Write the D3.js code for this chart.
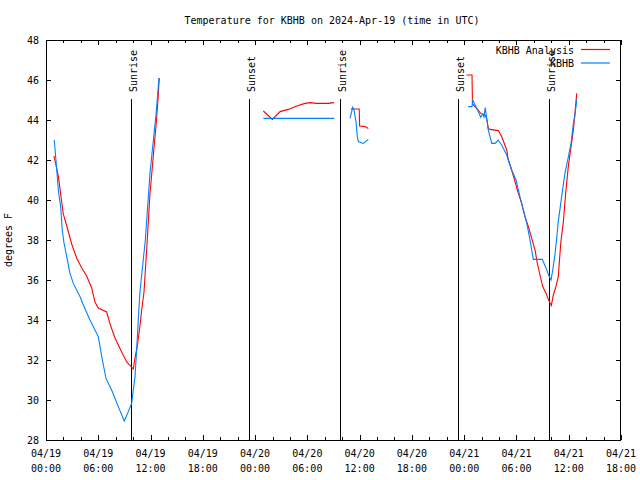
<!DOCTYPE html>
<html>
<head>
<meta charset="utf-8">
<script src="https://cdn.jsdelivr.net/npm/d3@7"></script>
<style>
  html, body { margin: 0; padding: 0; background: #fff; }
  text { font-family: "DejaVu Sans Mono", "Liberation Mono", monospace; font-size: 10px; fill: #000; }
</style>
</head>
<body>
<svg id="chart" width="640" height="480"></svg>
<script>
// ---- Data ----
const titleText = "Temperature for KBHB on 2024-Apr-19 (time in UTC)";
const yLabelText = "degrees F";
const seriesNames = ["KBHB Analysis", "KBHB"];
const seriesColors = ["#ff0000", "#0080ff"];

// KBHB Analysis (null marks a gap in the data)
const analysisTimes = [
  "2024-04-19 00:55","2024-04-19 01:25","2024-04-19 01:41","2024-04-19 01:59","2024-04-19 02:23",
  "2024-04-19 02:57","2024-04-19 03:31","2024-04-19 04:06","2024-04-19 04:40","2024-04-19 05:15",
  "2024-04-19 05:37","2024-04-19 06:00","2024-04-19 06:58","2024-04-19 07:21","2024-04-19 07:55",
  "2024-04-19 08:41","2024-04-19 09:16","2024-04-19 09:43","2024-04-19 10:01","2024-04-19 10:15",
  "2024-04-19 10:29","2024-04-19 10:47","2024-04-19 10:59","2024-04-19 11:15","2024-04-19 11:34",
  "2024-04-19 11:56","2024-04-19 12:19","2024-04-19 12:41","2024-04-19 12:51","2024-04-19 13:00",
  null,
  "2024-04-20 00:57","2024-04-20 01:59","2024-04-20 02:52","2024-04-20 03:49","2024-04-20 04:47",
  "2024-04-20 05:44","2024-04-20 06:18","2024-04-20 07:04","2024-04-20 08:24","2024-04-20 09:04",
  null,
  "2024-04-20 10:58","2024-04-20 11:57","2024-04-20 12:00","2024-04-20 12:37","2024-04-20 13:00",
  null,
  "2024-04-21 00:16","2024-04-21 00:54","2024-04-21 00:57","2024-04-21 01:26","2024-04-21 01:54",
  "2024-04-21 02:23","2024-04-21 02:35","2024-04-21 02:46","2024-04-21 02:58","2024-04-21 03:55",
  "2024-04-21 04:18","2024-04-21 04:53","2024-04-21 05:04","2024-04-21 05:27","2024-04-21 05:50",
  "2024-04-21 06:13","2024-04-21 06:36","2024-04-21 06:59","2024-04-21 07:22","2024-04-21 07:45",
  "2024-04-21 08:08","2024-04-21 08:24","2024-04-21 08:42","2024-04-21 09:01","2024-04-21 09:24",
  "2024-04-21 09:46","2024-04-21 10:00","2024-04-21 10:14","2024-04-21 10:32","2024-04-21 10:48",
  "2024-04-21 11:05","2024-04-21 11:23","2024-04-21 11:39","2024-04-21 11:57","2024-04-21 12:16",
  "2024-04-21 12:32","2024-04-21 12:43","2024-04-21 12:55"
];
const analysisTemps = [
  42.2, 41.2, 40.3, 39.3, 38.7,
  37.8, 37.1, 36.6, 36.2, 35.6,
  34.9, 34.6, 34.4, 33.8, 33.1,
  32.4, 31.9, 31.7, 31.55, 32.2,
  32.7, 33.7, 34.5, 35.4, 37.6,
  40.3, 42.2, 44.0, 45.0, 46.1,
  null,
  44.45, 44.03, 44.42, 44.53, 44.7,
  44.83, 44.87, 44.83, 44.83, 44.87,
  null,
  44.55, 44.55, 43.7, 43.67, 43.58,
  null,
  46.25, 46.25, 44.8, 44.58, 44.33,
  44.25, 44.08, 43.58, 43.53, 43.47,
  43.17, 42.5, 42.0, 41.5, 40.92,
  40.33, 39.83, 39.17, 38.67, 38.08,
  37.5, 36.83, 36.25, 35.67, 35.33,
  34.92, 34.72, 35.25, 35.67, 36.17,
  37.83, 38.92, 40.33, 41.67, 42.67,
  43.5, 44.33, 45.33
];

// KBHB observations
const obsTimes = [
  "2024-04-19 00:57","2024-04-19 01:14","2024-04-19 01:25","2024-04-19 01:41","2024-04-19 01:52",
  "2024-04-19 02:04","2024-04-19 02:23","2024-04-19 02:45","2024-04-19 03:08","2024-04-19 03:54",
  "2024-04-19 04:17","2024-04-19 05:03","2024-04-19 06:00","2024-04-19 06:24","2024-04-19 06:53",
  "2024-04-19 07:32","2024-04-19 08:18","2024-04-19 08:59","2024-04-19 09:27","2024-04-19 09:50",
  "2024-04-19 10:01","2024-04-19 10:13","2024-04-19 10:25","2024-04-19 10:36","2024-04-19 10:47",
  "2024-04-19 11:24","2024-04-19 11:56","2024-04-19 12:38","2024-04-19 12:58",
  null,
  "2024-04-20 00:57","2024-04-20 03:00","2024-04-20 06:00","2024-04-20 09:04",
  null,
  "2024-04-20 10:54","2024-04-20 11:12","2024-04-20 11:21","2024-04-20 11:35","2024-04-20 11:44",
  "2024-04-20 11:51","2024-04-20 12:25","2024-04-20 13:00",
  null,
  "2024-04-21 00:27","2024-04-21 00:54","2024-04-21 00:59","2024-04-21 01:15","2024-04-21 01:37",
  "2024-04-21 01:54","2024-04-21 02:08","2024-04-21 02:16","2024-04-21 02:25","2024-04-21 02:35",
  "2024-04-21 02:46","2024-04-21 03:10","2024-04-21 03:32","2024-04-21 03:55","2024-04-21 04:18",
  "2024-04-21 04:53","2024-04-21 05:27","2024-04-21 05:57","2024-04-21 06:24","2024-04-21 06:47",
  "2024-04-21 07:11","2024-04-21 07:29","2024-04-21 07:45","2024-04-21 07:56","2024-04-21 08:58",
  "2024-04-21 09:24","2024-04-21 09:46","2024-04-21 09:58","2024-04-21 10:10","2024-04-21 10:26",
  "2024-04-21 10:37","2024-04-21 10:48","2024-04-21 11:05","2024-04-21 11:19","2024-04-21 11:34",
  "2024-04-21 11:53","2024-04-21 12:16","2024-04-21 12:32","2024-04-21 12:43","2024-04-21 12:55"
];
const obsTemps = [
  43.0, 41.5, 40.5, 39.67, 38.5,
  37.85, 37.17, 36.33, 35.83, 35.17,
  34.75, 34.0, 33.17, 32.17, 31.08,
  30.5, 29.67, 28.95, 29.42, 29.83,
  30.5, 31.17, 32.58, 34.08, 35.4,
  38.0, 41.33, 44.3, 46.1,
  null,
  44.08, 44.08, 44.08, 44.08,
  null,
  44.08, 44.63, 44.5, 43.92, 43.17,
  42.92, 42.83, 43.03,
  null,
  44.67, 44.67, 45.0, 44.75, 44.42,
  44.13, 44.3, 44.15, 44.62, 44.08,
  43.5, 42.83, 42.83, 43.0, 42.75,
  42.25, 41.5, 41.0, 40.17, 39.5,
  38.83, 38.17, 37.5, 37.03, 37.03,
  36.58, 36.17, 36.0, 36.5, 37.33,
  38.08, 38.92, 39.83, 40.58, 41.33,
  42.0, 42.83, 43.83, 44.25, 45.0
];

// Sunrise / sunset markers
const eventLabels = ["Sunrise", "Sunset", "Sunrise", "Sunset", "Sunrise"];
const eventTimes = ["2024-04-19 09:47", "2024-04-19 23:20", "2024-04-20 09:47", "2024-04-20 23:20", "2024-04-21 09:46"];

// Axes
const xDomain = ["2024-04-19 00:00", "2024-04-21 18:00"];
const yDomain = [28, 48];
const yTickValues = [28, 30, 32, 34, 36, 38, 40, 42, 44, 46, 48];

// ---- Drawing ----
const parse = d3.utcParse("%Y-%m-%d %H:%M");
const svg = d3.select("#chart");
const m = { left: 46, right: 621, top: 40, bottom: 440 };

const x = d3.scaleUtc().domain(xDomain.map(parse)).range([m.left, m.right]);
const y = d3.scaleLinear().domain(yDomain).range([m.bottom, m.top]);

// Title
svg.append("text").attr("x", 332).attr("y", 24).attr("text-anchor", "middle").text(titleText);

// Y label
svg.append("text")
  .attr("transform", "translate(12,240) rotate(-90)")
  .attr("text-anchor", "middle").text(yLabelText);

const axisG = svg.append("g").attr("shape-rendering", "crispEdges");

// x ticks
const majorX = d3.utcHour.every(6).range(x.domain()[0], new Date(+x.domain()[1] + 1));
const minorX = d3.utcHour.every(2).range(x.domain()[0], new Date(+x.domain()[1] + 1));
const xb = d3.axisBottom(x).tickValues(majorX).tickSize(-5).tickFormat("");
const xbMinor = d3.axisBottom(x).tickValues(minorX).tickSize(-3).tickFormat("");
const xt = d3.axisTop(x).tickValues(majorX).tickSize(-5).tickFormat("");
const xtMinor = d3.axisTop(x).tickValues(minorX).tickSize(-3).tickFormat("");
[[xb, m.bottom], [xbMinor, m.bottom], [xt, m.top], [xtMinor, m.top]].forEach(([ax, ty]) => {
  const g = axisG.append("g").attr("transform", `translate(0,${ty})`).call(ax);
  g.select(".domain").remove();
  g.selectAll("line").attr("stroke", "#000");
});

// x tick labels (two lines)
const fmtDate = d3.utcFormat("%m/%d"), fmtTime = d3.utcFormat("%H:%M");
const xl = svg.append("g");
majorX.forEach(t => {
  const tx = xl.append("text").attr("x", x(t)).attr("text-anchor", "middle");
  tx.append("tspan").attr("x", x(t)).attr("y", 457).text(fmtDate(t));
  tx.append("tspan").attr("x", x(t)).attr("y", 472).text(fmtTime(t));
});

// y ticks
const yl = d3.axisLeft(y).tickValues(yTickValues).tickSize(-5).tickPadding(8).tickFormat(d3.format("d"));
const yr = d3.axisRight(y).tickValues(yTickValues).tickSize(-5).tickFormat("");
const gyl = axisG.append("g").attr("transform", `translate(${m.left},0)`).call(yl);
const gyr = axisG.append("g").attr("transform", `translate(${m.right},0)`).call(yr);
[gyl, gyr].forEach(g => { g.select(".domain").remove(); g.selectAll("line").attr("stroke", "#000"); });
gyl.selectAll("text").attr("font-family", null).attr("font-size", null).attr("fill", "#000")
  .attr("x", -7).attr("dy", "0.35em");

// Sun event lines
const ev = svg.append("g");
eventTimes.forEach((t, i) => {
  const ex = Math.round(x(parse(t))) + 0.5;
  ev.append("line").attr("x1", ex).attr("x2", ex).attr("y1", 99).attr("y2", m.bottom)
    .attr("stroke", "#000").attr("stroke-width", 1);
  ev.append("text").attr("transform", `translate(${ex + 5},92) rotate(-90)`)
    .attr("text-anchor", "start").text(eventLabels[i]);
});

// Series
function buildSeries(times, temps) {
  return times.map((t, i) => ({ t: t === null ? null : parse(t), v: temps[i] }));
}
const series = [buildSeries(analysisTimes, analysisTemps), buildSeries(obsTimes, obsTemps)];
const line = d3.line().defined(d => d.t !== null && d.v !== null).x(d => x(d.t)).y(d => y(d.v));
series.forEach((s, i) => {
  svg.append("path").datum(s).attr("d", line).attr("fill", "none")
    .attr("stroke", seriesColors[i]).attr("stroke-width", 1.1);
});

// Legend
const leg = svg.append("g");
seriesNames.forEach((n, i) => {
  const ly = 49.5 + i * 13.5;
  leg.append("text").attr("x", 574).attr("y", ly + 4).attr("text-anchor", "end").text(n);
  leg.append("line").attr("x1", 581).attr("x2", 610).attr("y1", ly).attr("y2", ly)
    .attr("stroke", seriesColors[i]).attr("stroke-width", 1.2);
});

// Border
svg.append("rect").attr("x", m.left + 0.5).attr("y", m.top + 0.5)
  .attr("width", m.right - m.left - 1).attr("height", m.bottom - m.top)
  .attr("fill", "none").attr("stroke", "#000").attr("stroke-width", 1).attr("shape-rendering", "crispEdges");
</script>
</body>
</html>
